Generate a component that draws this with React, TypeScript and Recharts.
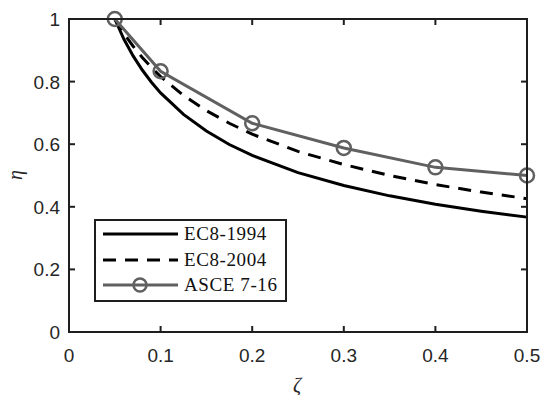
import React from "react";
import { LineChart, Line, XAxis, YAxis, Legend } from "recharts";

// damping ratio ζ and correction factor η
const zeta = [0.05, 0.06, 0.07, 0.08, 0.09, 0.1, 0.125, 0.15, 0.175, 0.2, 0.25, 0.3, 0.35, 0.4, 0.45, 0.5];
const ec8_1994 = [1.0, 0.935, 0.882, 0.837, 0.798, 0.764, 0.695, 0.642, 0.599, 0.564, 0.509, 0.468, 0.435, 0.408, 0.386, 0.367];
const ec8_2004 = [1.0, 0.953, 0.913, 0.877, 0.845, 0.816, 0.756, 0.707, 0.667, 0.632, 0.577, 0.535, 0.5, 0.471, 0.447, 0.426];
const asceZeta = [0.05, 0.1, 0.2, 0.3, 0.4, 0.5];
const asce716 = [1.0, 0.833, 0.667, 0.588, 0.526, 0.5];

const xTicks = [0, 0.1, 0.2, 0.3, 0.4, 0.5];
const yTicks = [0, 0.2, 0.4, 0.6, 0.8, 1];
const seriesNames = ["EC8-1994", "EC8-2004", "ASCE 7-16"];

const data1994 = zeta.map((z, i) => ({ z, v: ec8_1994[i] }));
const data2004 = zeta.map((z, i) => ({ z, v: ec8_2004[i] }));
const dataAsce = asceZeta.map((z, i) => ({ z, v: asce716[i] }));

const W = 541;
const H = 395;
const M = { top: 19, right: 14, left: 0, bottom: 0 };
const X_AXIS_H = 63;
const Y_AXIS_W = 69;
const PLOT_W = W - M.left - M.right - Y_AXIS_W;
const PLOT_H = H - M.top - M.bottom - X_AXIS_H;

const AXIS = "#1e1e1e";
const GRAY = "#606060";
const TICK_FONT = "'Liberation Sans', Arial, sans-serif";
const SERIF = "'Liberation Serif', 'Times New Roman', serif";

const fmt = (v: number) => String(Math.round(v * 10) / 10);

// MATLAB-style inward ticks (filled rects), mirrored on the top edge
const BottomTick = (props: any) => {
  const { x, y, payload } = props;
  const inner = payload.value > 0 && payload.value < 0.5;
  return (
    <g>
      {inner && <rect x={x - 1} y={y - 6} width={2} height={6} fill={AXIS} />}
      {inner && <rect x={x - 1} y={y - PLOT_H} width={2} height={6} fill={AXIS} />}
      <text x={x} y={y + 30} textAnchor="middle" fontSize={19} fontFamily={TICK_FONT} fill="#262626">
        {fmt(payload.value)}
      </text>
    </g>
  );
};

// inward ticks on the left, mirrored on the right edge
const LeftTick = (props: any) => {
  const { x, y, payload } = props;
  const inner = payload.value > 0 && payload.value < 1;
  return (
    <g>
      {inner && <rect x={x} y={y - 1} width={6} height={2} fill={AXIS} />}
      {inner && <rect x={x + PLOT_W - 6} y={y - 1} width={6} height={2} fill={AXIS} />}
      <text x={x - 9} y={y + 7} textAnchor="end" fontSize={19} fontFamily={TICK_FONT} fill="#262626">
        {fmt(payload.value)}
      </text>
    </g>
  );
};

const LegendBox = () => (
  <div
    style={{
      width: 193,
      height: 83,
      border: "2px solid #1e1e1e",
      background: "#fff",
      boxSizing: "border-box",
    }}
  >
    <svg width={189} height={79}>
      <line x1={7} y1={13} x2={82} y2={13} stroke="#000" strokeWidth={3} />
      <line x1={7} y1={39} x2={82} y2={39} stroke="#000" strokeWidth={3} strokeDasharray="13 9" />
      <line x1={7} y1={64} x2={82} y2={64} stroke={GRAY} strokeWidth={3} />
      <circle cx={44} cy={64} r={6.5} fill="none" stroke={GRAY} strokeWidth={2.5} />
      {seriesNames.map((n, i) => (
        <text
          key={n}
          x={88}
          y={[13, 39, 64][i] + 6}
          fontSize={19}
          letterSpacing={0.6}
          fontFamily={SERIF}
          fill="#111"
        >
          {n}
        </text>
      ))}
    </svg>
  </div>
);

export default function App() {
  return (
    <div style={{ position: "absolute", left: 0, top: 0, width: W, height: H, background: "#fff" }}>
      <LineChart width={W} height={H} margin={M}>
        <XAxis
          dataKey="z"
          type="number"
          domain={[0, 0.5]}
          ticks={xTicks}
          height={X_AXIS_H}
          tickSize={0}
          tickMargin={0}
          tickLine={false}
          axisLine={false}
          tick={<BottomTick />}
        />
        <YAxis
          type="number"
          domain={[0, 1]}
          ticks={yTicks}
          width={Y_AXIS_W}
          tickSize={0}
          tickMargin={0}
          tickLine={false}
          axisLine={false}
          tick={<LeftTick />}
        />
        <Line
          data={data1994}
          dataKey="v"
          name={seriesNames[0]}
          type="linear"
          stroke="#000"
          strokeWidth={3}
          dot={false}
          isAnimationActive={false}
        />
        <Line
          data={data2004}
          dataKey="v"
          name={seriesNames[1]}
          type="linear"
          stroke="#000"
          strokeWidth={3}
          strokeDasharray="13 9"
          dot={false}
          isAnimationActive={false}
        />
        <Line
          data={dataAsce}
          dataKey="v"
          name={seriesNames[2]}
          type="linear"
          stroke={GRAY}
          strokeWidth={3}
          dot={{ r: 7, fill: "none", stroke: GRAY, strokeWidth: 2.5 }}
          isAnimationActive={false}
        />
        <Legend
          layout="vertical"
          align="center"
          verticalAlign="middle"
          content={<LegendBox />}
          wrapperStyle={{ left: 94, top: 219, width: 193, height: 83 }}
        />
        <text x={15} y={175} transform="rotate(-90 15 175)" textAnchor="middle" dominantBaseline="central" fontSize={20} fontStyle="italic" fontFamily={SERIF} fill="#262626">
          η
        </text>
        <text x={297} y={385} textAnchor="middle" dominantBaseline="central" fontSize={20} fontStyle="italic" fontFamily={SERIF} fill="#262626">
          ζ
        </text>
      </LineChart>
      {/* axes box drawn on top of the plot area */}
      <div
        style={{
          position: "absolute",
          left: M.left + Y_AXIS_W - 1,
          top: M.top - 1,
          width: PLOT_W + 2,
          height: PLOT_H + 2,
          border: `2px solid ${AXIS}`,
          boxSizing: "border-box",
          pointerEvents: "none",
        }}
      />
    </div>
  );
}
